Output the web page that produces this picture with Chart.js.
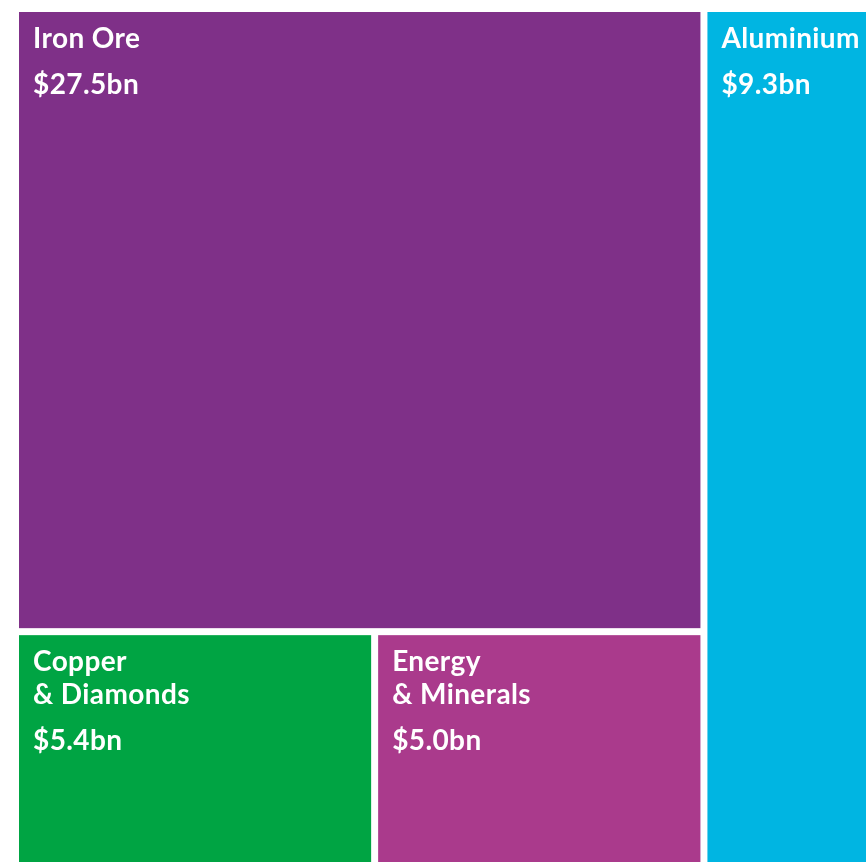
<!DOCTYPE html>
<html>
<head>
<meta charset="utf-8">
<title>Revenue by business</title>
<script src="https://cdn.jsdelivr.net/npm/chart.js@4.4.1/dist/chart.umd.min.js"></script>
<style>
  html, body { margin: 0; padding: 0; background: #ffffff; overflow: hidden; }
  #wrap { position: absolute; left: 0; top: 0; width: 872px; height: 866px; }
</style>
</head>
<body>
<div id="wrap"><canvas id="chart" width="872" height="866"></canvas></div>
<script>
// Revenue by business, US$ billions
const categories = ['Iron Ore', 'Aluminium', 'Copper & Diamonds', 'Energy & Minerals'];
const labelLines = [['Iron Ore'], ['Aluminium'], ['Copper', '& Diamonds'], ['Energy', '& Minerals']];
const valuesBn = [27.5, 9.3, 5.4, 5.0];
const tileColors = ['#7f3088', '#00b5e2', '#00a443', '#aa3a8c'];

// Slice-and-dice nesting: left column (Iron Ore over Copper | Energy), right column Aluminium
const layoutTree = { dir: 'x', children: [
  { dir: 'y', children: [0, { dir: 'x', children: [2, 3] }] },
  1
] };

const total = valuesBn.reduce((a, b) => a + b, 0);

function nodeSum(node) {
  return typeof node === 'number' ? valuesBn[node] : node.children.reduce((s, c) => s + nodeSum(c), 0);
}

// Lay tiles out in value space: x spans [0, total], y spans [0, 1]
function layout(node, x0, x1, y0, y1, out) {
  if (typeof node === 'number') { out[node] = { x0, x1, y0, y1 }; return out; }
  const sum = nodeSum(node);
  let pos = node.dir === 'x' ? x0 : y0;
  node.children.forEach(child => {
    const frac = nodeSum(child) / sum;
    if (node.dir === 'x') {
      const w = (x1 - x0) * frac;
      layout(child, pos, pos + w, y0, y1, out);
      pos += w;
    } else {
      const h = (y1 - y0) * frac;
      layout(child, x0, x1, pos, pos + h, out);
      pos += h;
    }
  });
  return out;
}

const tiles = layout(layoutTree, 0, total, 0, 1, []);

const GAP = 7;
const FONT = 'bold 28px Lato, "Open Sans", sans-serif';

const treemapPlugin = {
  id: 'treemapTiles',
  beforeDatasetsDraw(chart) {
    const { ctx, chartArea, scales: { x, y } } = chart;
    ctx.save();
    tiles.forEach((t, i) => {
      let left = x.getPixelForValue(t.x0);
      let right = x.getPixelForValue(t.x1);
      let top = y.getPixelForValue(t.y0);
      let bottom = y.getPixelForValue(t.y1);
      if (left > chartArea.left + 0.5) left += GAP / 2;
      if (right < chartArea.right - 0.5) right -= GAP / 2;
      if (top > chartArea.top + 0.5) top += GAP / 2;
      if (bottom < chartArea.bottom - 0.5) bottom -= GAP / 2;
      ctx.fillStyle = tileColors[i];
      ctx.fillRect(left, top, right - left, bottom - top);

      ctx.fillStyle = '#ffffff';
      ctx.font = FONT;
      if ('letterSpacing' in ctx) ctx.letterSpacing = '0.4px';
      ctx.textAlign = 'left';
      ctx.textBaseline = 'alphabetic';
      const tx = left + 14;
      let base = top + 36;
      labelLines[i].forEach((line, k) => {
        if (k > 0) base += 33;
        ctx.fillText(line, tx, base);
      });
      ctx.fillText('$' + valuesBn[i].toFixed(1) + 'bn', tx, base + 46);
    });
    ctx.restore();
  }
};

new Chart(document.getElementById('chart'), {
  type: 'scatter',
  data: { datasets: [{ label: 'Revenue', data: [] }] },
  options: {
    responsive: false,
    animation: false,
    layout: { padding: { left: 19, top: 12, right: 0, bottom: 0 } },
    plugins: { legend: { display: false }, tooltip: { enabled: false } },
    scales: {
      x: { type: 'linear', min: 0, max: total, display: false },
      y: { type: 'linear', min: 0, max: 1, reverse: true, display: false }
    }
  },
  plugins: [treemapPlugin]
});
</script>
</body>
</html>
